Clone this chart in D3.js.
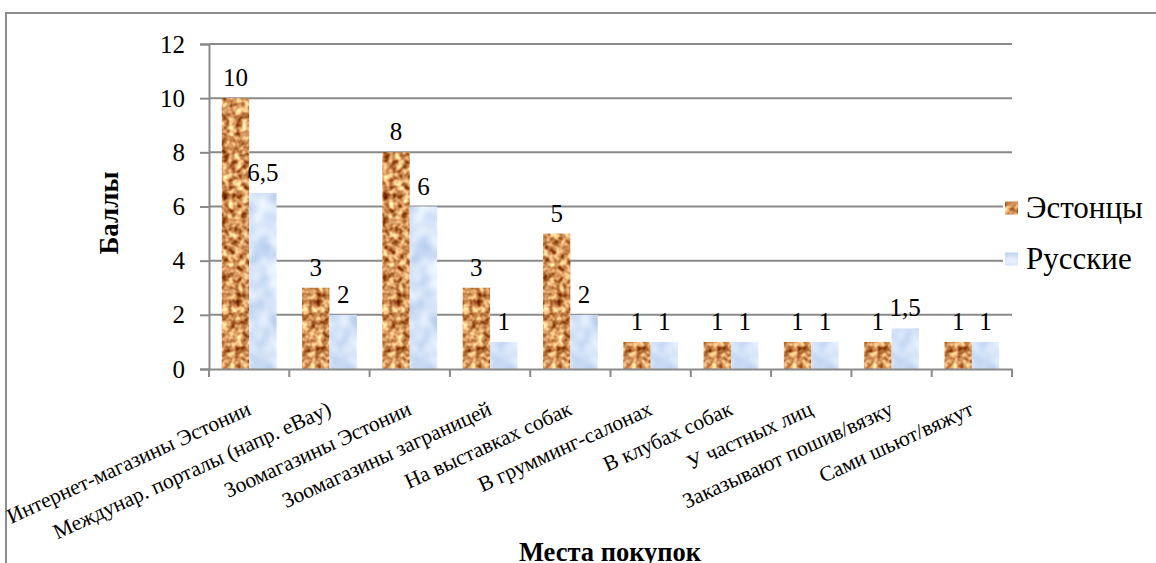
<!DOCTYPE html>
<html>
<head>
<meta charset="utf-8">
<script src="https://cdn.jsdelivr.net/npm/d3@7"></script>
</head>
<body style="margin:0;background:#fff">
<svg id="chart" width="1156" height="563" style="display:block"></svg>
<script>
// Purchase places and scores by group
const categories = [
  "Интернет-магазины Эстонии",
  "Междунар. порталы (напр. eBay)",
  "Зоомагазины Эстонии",
  "Зоомагазины заграницей",
  "На выставках собак",
  "В грумминг-салонах",
  "В клубах собак",
  "У частных лиц",
  "Заказывают пошив/вязку",
  "Сами шьют/вяжут"
];
const seriesNames = ["Эстонцы", "Русские"];
const estonians = [10, 3, 8, 3, 5, 1, 1, 1, 1, 1];
const russians  = [6.5, 2, 6, 1, 2, 1, 1, 1, 1.5, 1];
const yTicks = [0, 2, 4, 6, 8, 10, 12];
const yTitle = "Баллы";
const xTitle = "Места покупок";

const FONT = "'Liberation Serif'";
const svg = d3.select("#chart");
const defs = svg.append("defs");

// Textured fills built from noise filters
function textureFilter(id, matrix, freq, seed) {
  const f = defs.append("filter").attr("id", id)
    .attr("x", 0).attr("y", 0).attr("width", 1).attr("height", 1)
    .attr("filterUnits", "objectBoundingBox")
    .attr("color-interpolation-filters", "sRGB");
  f.append("feTurbulence").attr("type", "fractalNoise")
    .attr("baseFrequency", freq).attr("numOctaves", 2).attr("seed", seed)
    .attr("result", "n");
  f.append("feColorMatrix").attr("in", "n").attr("type", "matrix")
    .attr("values", matrix).attr("result", "c");
  f.append("feComposite").attr("in", "c").attr("in2", "SourceGraphic").attr("operator", "in");
}
textureFilter("cork",
  "1.2 0 0 0 0.23  1.4 0 0 0 -0.12  1.3 0 0 0 -0.30  0 0 0 0 1", 0.15, 4);
textureFilter("tissue",
  "0.4 0 0 0 0.63  0.3 0 0 0 0.74  0.15 0 0 0 0.895  0 0 0 0 1", 0.05, 7);

const fills = ["url(#cork)", "url(#tissue)"];
const baseColors = ["#d0955c", "#d6e4f8"];

// Outer frame
svg.append("rect").attr("x", 6).attr("y", 13).attr("width", 1200).attr("height", 600)
  .attr("fill", "none").attr("stroke", "#8c8c8c").attr("stroke-width", 2);

const plot = { left: 209, right: 1012, top: 44, bottom: 369 };

const x0 = d3.scaleBand().domain(categories).range([plot.left, plot.right]).padding(0);
const x1 = d3.scaleBand().domain(seriesNames).range([0, x0.bandwidth()])
  .paddingInner(0).paddingOuter(0.465);
const y = d3.scaleLinear().domain([0, 12]).range([plot.bottom, plot.top]);

// Horizontal gridlines
svg.append("g").selectAll("line").data(yTicks.filter(d => d > 0)).join("line")
  .attr("x1", plot.left).attr("x2", plot.right)
  .attr("y1", d => y(d)).attr("y2", d => y(d))
  .attr("stroke", "#8a8a8a").attr("stroke-width", 2);

// Y axis
const yAxis = svg.append("g").attr("transform", `translate(${plot.left},0)`)
  .call(d3.axisLeft(y).tickValues(yTicks).tickSize(9).tickPadding(15).tickFormat(d3.format("d")));
yAxis.select(".domain").attr("stroke", "#8a8a8a").attr("stroke-width", 2);
yAxis.selectAll(".tick line").attr("stroke", "#8a8a8a").attr("stroke-width", 2);
yAxis.selectAll(".tick text").style("font-family", FONT).style("font-size", "25px").attr("fill", "#000");

// Bars
const values = [estonians, russians];
const rows = categories.map((c, i) => ({ c, vals: seriesNames.map((s, k) => ({ s, k, v: values[k][i] })) }));
const groups = svg.append("g").selectAll("g").data(rows).join("g")
  .attr("transform", d => `translate(${x0(d.c)},0)`);
groups.selectAll("rect").data(d => d.vals).join("rect")
  .attr("x", d => x1(d.s)).attr("width", x1.bandwidth())
  .attr("y", d => y(d.v)).attr("height", d => y(0) - y(d.v))
  .attr("fill", d => baseColors[d.k])
  .attr("filter", d => fills[d.k]);

// Value labels
const fmt = v => String(v).replace(".", ",");
groups.selectAll("text").data(d => d.vals).join("text")
  .attr("x", d => x1(d.s) + x1.bandwidth() / 2)
  .attr("y", d => y(d.v) - 12)
  .attr("text-anchor", "middle")
  .style("font-family", FONT).style("font-size", "25px")
  .text(d => fmt(d.v));

// X axis line with category separators
const xAxis = svg.append("g").attr("transform", `translate(0,${plot.bottom})`)
  .call(d3.axisBottom(x0).tickSize(0).tickFormat(""));
xAxis.select(".domain").attr("stroke", "#8a8a8a").attr("stroke-width", 2);
svg.append("g").selectAll("line")
  .data(categories.map(c => x0(c)).concat([plot.right])).join("line")
  .attr("x1", d => d).attr("x2", d => d)
  .attr("y1", plot.bottom).attr("y2", plot.bottom + 8)
  .attr("stroke", "#8a8a8a").attr("stroke-width", 2);

// Rotated category labels
svg.append("g").selectAll("text").data(categories).join("text")
  .attr("transform", d => `translate(${x0(d) + x0.bandwidth() / 2 + 3},${plot.bottom + 45}) rotate(-24.5)`)
  .attr("text-anchor", "end")
  .style("font-family", FONT).style("font-size", "21.5px")
  .text(d => d);

// Axis titles
svg.append("text")
  .attr("transform", `translate(118,213) rotate(-90)`)
  .attr("text-anchor", "middle")
  .style("font-family", FONT).style("font-size", "27px").style("font-weight", "bold")
  .text(yTitle);
svg.append("text")
  .attr("x", 610).attr("y", 561)
  .attr("text-anchor", "middle")
  .style("font-family", FONT).style("font-size", "26.5px").style("font-weight", "bold")
  .text(xTitle);

// Legend
const legend = svg.append("g");
legend.append("rect").attr("x", 1003).attr("y", 185).attr("width", 153).attr("height", 100).attr("fill", "#fff");
const items = legend.selectAll("g").data(seriesNames).join("g")
  .attr("transform", (d, i) => `translate(1005,${208 + i * 51})`);
items.append("rect").attr("x", 0).attr("y", -6.5).attr("width", 13).attr("height", 13)
  .attr("fill", (d, i) => baseColors[i]).attr("filter", (d, i) => fills[i]);
items.append("text").attr("x", 21).attr("y", 10)
  .style("font-family", FONT).style("font-size", "31px")
  .text(d => d);
</script>
</body>
</html>
